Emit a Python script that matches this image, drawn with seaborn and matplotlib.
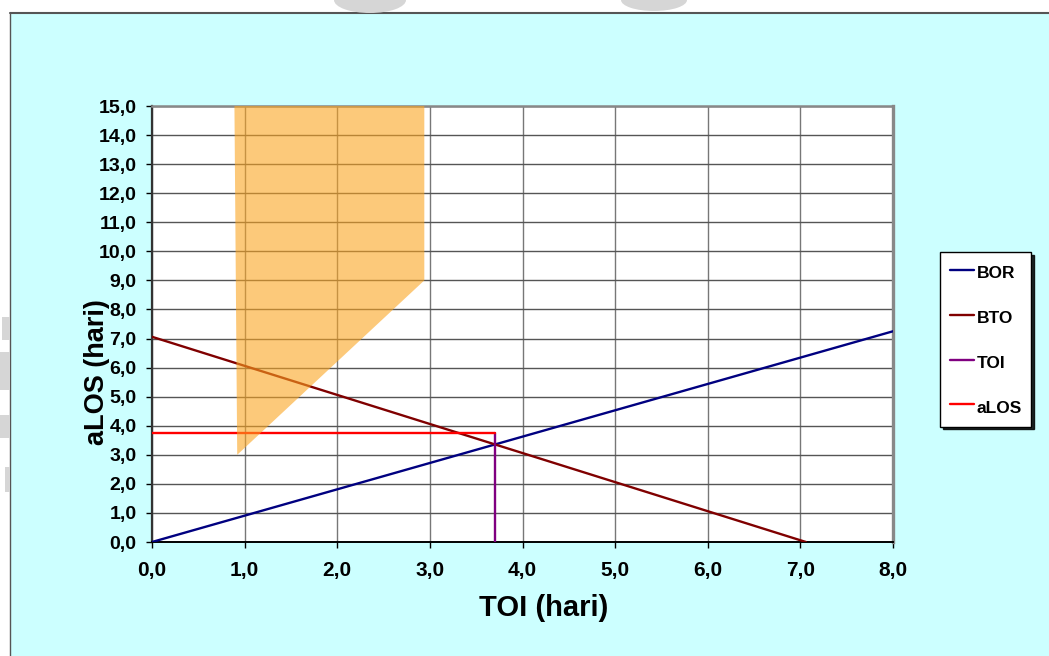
import matplotlib
matplotlib.use("Agg")
import matplotlib.pyplot as plt
from matplotlib.patches import Rectangle, Ellipse
from matplotlib.lines import Line2D
from matplotlib.ticker import FixedLocator, FuncFormatter
import pandas as pd
import seaborn as sns

# Barber-Johnson diagram values (TOI on x, aLOS on y)
bor_x = [0.0, 8.0]
bor_y = [0.0, 7.25]
bto_x = [0.0, 7.06]
bto_y = [7.06, 0.0]
toi_x = [3.70, 3.70]
toi_y = [0.0, 3.75]
alos_x = [0.0, 3.70]
alos_y = [3.75, 3.75]

# efficient zone polygon
zone_x = [0.89, 2.94, 2.94, 0.92, 0.905]
zone_y = [15.0, 15.0, 9.0, 3.0, 9.0]

series_names = ["BOR", "BTO", "TOI", "aLOS"]
series_colors = ["#000080", "#800000", "#800080", "#FF0000"]

x_ticks = [0, 1, 2, 3, 4, 5, 6, 7, 8]
y_ticks = list(range(0, 16))

frames = []
for name, xs, ys in zip(series_names,
                        [bor_x, bto_x, toi_x, alos_x],
                        [bor_y, bto_y, toi_y, alos_y]):
    frames.append(pd.DataFrame({"TOI": xs, "aLOS": ys, "seri": name}))
df = pd.concat(frames, ignore_index=True)

sns.set_theme(style="white")
plt.rcParams["font.family"] = ["Liberation Sans", "DejaVu Sans"]
plt.rcParams["font.weight"] = "bold"
plt.rcParams["axes.labelweight"] = "bold"
plt.rcParams["text.color"] = "black"
plt.rcParams["axes.labelcolor"] = "black"
plt.rcParams["xtick.color"] = "black"
plt.rcParams["ytick.color"] = "black"

W, H = 1049, 656
fig = plt.figure(figsize=(W / 100, H / 100), dpi=100, facecolor="white")


def fx(px):
    return px / W


def fy(py):
    return 1 - py / H


# page background
fig.add_artist(Rectangle((fx(10), -0.1), 1.2, fy(13) + 0.1,
                         transform=fig.transFigure, facecolor="#CCFFFF",
                         edgecolor="none", zorder=-20))
fig.add_artist(Line2D([fx(10), 1.0], [fy(13), fy(13)], transform=fig.transFigure,
                      color="#555555", lw=1.5, zorder=-19))
fig.add_artist(Line2D([fx(10), fx(10)], [0.0, fy(13)], transform=fig.transFigure,
                      color="#555555", lw=1.0, zorder=-19))
# faint grey marks along the page edge
for cx, w, h in [(370, 72, 26), (654, 66, 22)]:
    fig.add_artist(Ellipse((fx(cx), 1.0), w / W, h / H, transform=fig.transFigure,
                           facecolor="#d6d6d6", edgecolor="none", zorder=-18))
for x0, y0, y1 in [(2, 317, 340), (0, 352, 390), (0, 415, 438), (5, 467, 492)]:
    fig.add_artist(Rectangle((fx(x0), fy(y1)), (9.5 - x0) / W, (y1 - y0) / H,
                             transform=fig.transFigure, facecolor="#d6d6d6",
                             edgecolor="none", zorder=-18))

ax = fig.add_axes([fx(152), fy(542), (893 - 152) / W, (542 - 106) / H])
ax.set_facecolor("white")

sns.lineplot(data=df, x="TOI", y="aLOS", hue="seri", hue_order=series_names,
             palette=series_colors, estimator=None, sort=False, units="seri",
             linewidth=1.7, ax=ax, zorder=3)

ax.fill(zone_x, zone_y, color="#FBA521", alpha=0.6, lw=0, zorder=4)

ax.set_xlim(0, 8)
ax.set_ylim(0, 15)
ax.xaxis.set_major_locator(FixedLocator(x_ticks))
ax.yaxis.set_major_locator(FixedLocator(y_ticks))
fmt = FuncFormatter(lambda v, p: f"{v:.1f}".replace(".", ","))
ax.xaxis.set_major_formatter(fmt)
ax.yaxis.set_major_formatter(fmt)

ax.grid(True, axis="y", color="#555555", lw=1.0, zorder=1)
ax.grid(True, axis="x", color="#777777", lw=1.0, zorder=1)
ax.set_axisbelow(True)

ax.tick_params(axis="x", direction="out", length=4, width=1, color="black",
               labelcolor="black", labelsize=15, pad=10, bottom=True)
ax.tick_params(axis="y", direction="out", length=4, width=1, color="black",
               labelcolor="black", labelsize=14, pad=7, left=True)
for lab in ax.get_xticklabels() + ax.get_yticklabels():
    lab.set_fontweight("bold")

ax.spines["left"].set_color("#333333")
ax.spines["left"].set_linewidth(1.6)
ax.spines["bottom"].set_color("black")
ax.spines["bottom"].set_linewidth(1.4)
ax.spines["top"].set_color("#888888")
ax.spines["top"].set_linewidth(1.8)
ax.spines["right"].set_color("#888888")
ax.spines["right"].set_linewidth(2.4)
for s in ax.spines.values():
    s.set_visible(True)

ax.set_xlabel("TOI (hari)", fontsize=21, fontweight="bold", color="black")
ax.set_ylabel("aLOS (hari)", fontsize=19.5, fontweight="bold", color="black")
ax.xaxis.set_label_coords(0.528, -0.12)
ax.yaxis.set_label_coords(-0.057, 0.39)

sns.move_legend(ax, "upper left", bbox_to_anchor=(fx(940), fy(252)),
                bbox_transform=fig.transFigure, title=None, frameon=True,
                fancybox=False, shadow={"color": "black", "alpha": 0.85},
                edgecolor="black", facecolor="white", framealpha=1,
                prop={"size": 12.5, "weight": "bold"}, handlelength=1.4,
                handleheight=1.44, handletextpad=0.15, labelspacing=1.41,
                borderpad=0.55, borderaxespad=0)
leg = ax.get_legend()
leg.get_frame().set_linewidth(1.0)
for t in leg.get_texts():
    t.set_color("black")
for h in leg.legend_handles:
    h.set_linewidth(1.7)

fig.savefig("out.png", dpi=100, facecolor="white")
